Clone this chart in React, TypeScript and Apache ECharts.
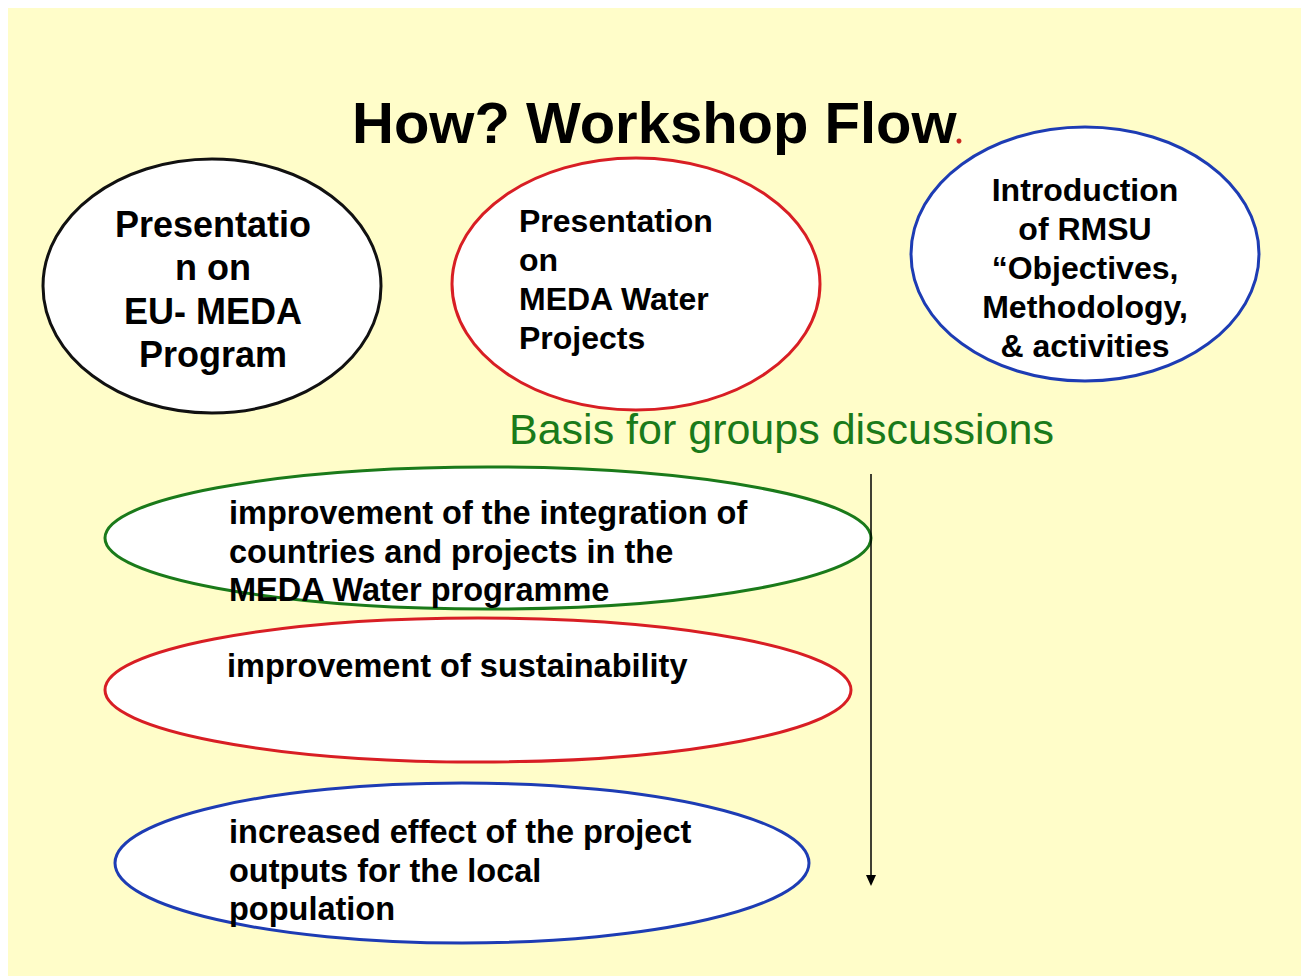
import React, { useEffect, useRef } from "react";
import * as echarts from "echarts";

const titleText = "How? Workshop Flow";
const subtitleText = "Basis for groups discussions";
const topLabels: string[][] = [
  ["Presentatio", "n on", "EU- MEDA", "Program"],
  ["Presentation", "on", "MEDA Water", "Projects"],
  ["Introduction", "of RMSU", "\u201cObjectives,", "Methodology,", "& activities"],
];
const bottomLabels: string[][] = [
  ["improvement of the integration of", "countries and projects in the", "MEDA Water programme"],
  ["improvement of sustainability"],
  ["increased effect of the project", "outputs for the local", "population"],
];

const FONT = '"Liberation Sans", Arial, Helvetica, sans-serif';
const BLACK = "#111111";
const RED = "#D81E24";
const GREEN = "#1A7A1A";
const BLUE = "#1D3CB4";
const OX = 8;
const OY = 8;

// layout (page coordinates)
const topLayout = [
  { cx: 212, cy: 286, rx: 169, ry: 127, stroke: BLACK, align: "center", tx: 213, y0: 224, lh: 43.5, size: 36 },
  { cx: 636, cy: 284, rx: 184, ry: 126, stroke: RED, align: "left", tx: 519, y0: 221, lh: 39, size: 32 },
  { cx: 1085, cy: 254, rx: 174, ry: 127, stroke: BLUE, align: "center", tx: 1085, y0: 190, lh: 39, size: 32 },
];
const bottomLayout = [
  { cx: 488, cy: 538, rx: 383, ry: 71, stroke: GREEN, tx: 229, y0: 513 },
  { cx: 478, cy: 690, rx: 373, ry: 72, stroke: RED, tx: 227, y0: 666 },
  { cx: 462, cy: 863, rx: 347, ry: 80, stroke: BLUE, tx: 229, y0: 832 },
];

export default function App() {
  const ref = useRef<HTMLDivElement>(null);
  useEffect(() => {
    if (!ref.current) return;
    document.documentElement.style.overflow = "hidden";
    const chart = echarts.init(ref.current, null, { renderer: "svg" });
    const els: any[] = [];
    const addEllipse = (l: any) =>
      els.push({
        type: "ellipse",
        shape: { cx: l.cx - OX, cy: l.cy - OY, rx: l.rx, ry: l.ry },
        style: { fill: "#ffffff", stroke: l.stroke, lineWidth: 3 },
        z: 1,
      });
    const addText = (text: string, x: number, y: number, size: number, align: string, fill: string, weight: string) =>
      els.push({
        type: "text",
        x: x - OX,
        y: y - OY,
        style: {
          text,
          font: `${weight} ${size}px ${FONT}`,
          fill,
          textAlign: align,
          textVerticalAlign: "middle",
        },
        z: 5,
      });

    addText(titleText, 352, 122, 58, "left", "#000000", "bold");
    els.push({
      type: "circle",
      shape: { cx: 959 - OX, cy: 141 - OY, r: 2.5 },
      style: { fill: "#C8261E" },
      z: 5,
    });

    topLayout.forEach((l, i) => {
      addEllipse(l);
      topLabels[i].forEach((t, j) => addText(t, l.tx, l.y0 + j * l.lh, l.size, l.align, "#000000", "bold"));
    });

    addText(subtitleText, 509, 429, 43, "left", GREEN, "normal");

    bottomLayout.forEach((l, i) => {
      addEllipse(l);
      bottomLabels[i].forEach((t, j) => addText(t, l.tx, l.y0 + j * 38.5, 32.5, "left", "#000000", "bold"));
    });

    // arrow
    els.push({
      type: "line",
      shape: { x1: 871 - OX, y1: 474 - OY, x2: 871 - OX, y2: 878 - OY },
      style: { stroke: "#000000", lineWidth: 1.5 },
      z: 6,
    });
    els.push({
      type: "polygon",
      shape: { points: [[866 - OX, 875 - OY], [876 - OX, 875 - OY], [871 - OX, 886 - OY]] },
      style: { fill: "#000000" },
      z: 6,
    });

    chart.setOption({
      animation: false,
      backgroundColor: "#FFFDC9",
      graphic: { elements: els },
    });
    return () => chart.dispose();
  }, []);
  return <div ref={ref} style={{ width: 1301, height: 968 }} />;
}
